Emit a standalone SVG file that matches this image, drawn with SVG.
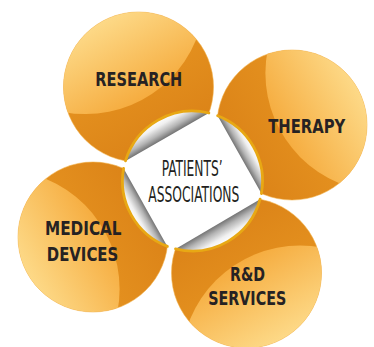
<svg xmlns="http://www.w3.org/2000/svg" width="374" height="347" viewBox="0 0 374 347">
<style>
.lbl{font-family:"Liberation Sans Narrow","DejaVu Sans Condensed","Liberation Sans",sans-serif;font-weight:700;font-size:20px;fill:#262223;text-anchor:middle}
.ctr{font-family:"Liberation Sans Narrow","DejaVu Sans Condensed","Liberation Sans",sans-serif;font-weight:400;font-size:22px;fill:#231F20;text-anchor:middle}
.gold{fill:none;stroke:#E8A814;stroke-width:2.8;stroke-linecap:round}
.rim{stroke:#F2B24A;stroke-width:0.8;stroke-opacity:0.7}
</style>
<defs>
<mask id="cut" maskUnits="userSpaceOnUse" x="0" y="0" width="374" height="347">
<rect width="374" height="347" fill="#fff"/>
<circle cx="192.5" cy="181" r="70" fill="#000"/>
</mask>
<clipPath id="c1"><circle cx="138.5" cy="87" r="75"/></clipPath>
<clipPath id="c2"><circle cx="292" cy="125" r="75"/></clipPath>
<clipPath id="c3"><circle cx="246.5" cy="273" r="75"/></clipPath>
<clipPath id="c4"><circle cx="93" cy="237" r="75"/></clipPath>
<linearGradient id="d1" gradientUnits="userSpaceOnUse" x1="167" y1="137" x2="101" y2="22"><stop offset="0" stop-color="#DC8418"/><stop offset="1" stop-color="#EA9A24"/></linearGradient>
<linearGradient id="d2" gradientUnits="userSpaceOnUse" x1="239" y1="155" x2="357" y2="88"><stop offset="0" stop-color="#DC8418"/><stop offset="1" stop-color="#EA9A24"/></linearGradient>
<linearGradient id="d3" gradientUnits="userSpaceOnUse" x1="218" y1="224" x2="284" y2="338"><stop offset="0" stop-color="#DC8418"/><stop offset="1" stop-color="#EA9A24"/></linearGradient>
<linearGradient id="d4" gradientUnits="userSpaceOnUse" x1="146" y1="207" x2="28" y2="274"><stop offset="0" stop-color="#DC8418"/><stop offset="1" stop-color="#EA9A24"/></linearGradient>
<linearGradient id="h1" gradientUnits="userSpaceOnUse" x1="148" y1="104" x2="101" y2="22"><stop offset="0" stop-color="#F5A93A"/><stop offset="1" stop-color="#FDD987"/></linearGradient>
<linearGradient id="h2" gradientUnits="userSpaceOnUse" x1="275" y1="135" x2="357" y2="88"><stop offset="0" stop-color="#F5A93A"/><stop offset="1" stop-color="#FDD987"/></linearGradient>
<linearGradient id="h3" gradientUnits="userSpaceOnUse" x1="237" y1="256" x2="284" y2="338"><stop offset="0" stop-color="#F5A93A"/><stop offset="1" stop-color="#FDD987"/></linearGradient>
<linearGradient id="h4" gradientUnits="userSpaceOnUse" x1="110" y1="227" x2="28" y2="274"><stop offset="0" stop-color="#F5A93A"/><stop offset="1" stop-color="#FDD987"/></linearGradient>
<linearGradient id="g1" gradientUnits="userSpaceOnUse" x1="167.2" y1="136.9" x2="157.6" y2="120.3"><stop offset="0" stop-color="#747474"/><stop offset="0.3" stop-color="#b4b4b4"/><stop offset="0.7" stop-color="#f0f0f0"/><stop offset="1" stop-color="#ffffff"/></linearGradient>
<linearGradient id="g2" gradientUnits="userSpaceOnUse" x1="239.5" y1="154.6" x2="253.5" y2="146.7"><stop offset="0" stop-color="#747474"/><stop offset="0.3" stop-color="#b4b4b4"/><stop offset="0.7" stop-color="#f0f0f0"/><stop offset="1" stop-color="#ffffff"/></linearGradient>
<linearGradient id="g3" gradientUnits="userSpaceOnUse" x1="217.8" y1="224.1" x2="227.9" y2="241.4"><stop offset="0" stop-color="#747474"/><stop offset="0.3" stop-color="#b4b4b4"/><stop offset="0.7" stop-color="#f0f0f0"/><stop offset="1" stop-color="#ffffff"/></linearGradient>
<linearGradient id="g4" gradientUnits="userSpaceOnUse" x1="145.5" y1="207.4" x2="131.5" y2="215.3"><stop offset="0" stop-color="#747474"/><stop offset="0.3" stop-color="#b4b4b4"/><stop offset="0.7" stop-color="#f0f0f0"/><stop offset="1" stop-color="#ffffff"/></linearGradient>
</defs>
<rect width="374" height="347" fill="#fff"/>

<g id="research">
<g mask="url(#cut)">
<circle cx="138.5" cy="87" r="75" fill="url(#d1)" class="rim"/>
<circle cx="85.7" cy="-4.9" r="119" fill="url(#h1)" clip-path="url(#c1)"/>
</g>
<path d="M125.5 160.9 L208.9 113 A70 70 0 0 0 125.5 160.9 Z" fill="url(#g1)"/>
<path d="M208.9 113 A70 70 0 0 0 125.5 160.9" class="gold"/>
<text class="lbl" x="138.8" y="86" textLength="87" lengthAdjust="spacingAndGlyphs">RESEARCH</text>
</g>

<g id="therapy">
<g mask="url(#cut)">
<circle cx="292" cy="125" r="75" fill="url(#d2)" class="rim"/>
<circle cx="384.4" cy="73" r="119" fill="url(#h2)" clip-path="url(#c2)"/>
</g>
<path d="M217.6 115.7 L261.4 193.5 A70 70 0 0 0 217.6 115.7 Z" fill="url(#g2)"/>
<path d="M261.4 193.5 A70 70 0 0 0 217.6 115.7" class="gold"/>
<text class="lbl" x="306.7" y="132.7" textLength="77" lengthAdjust="spacingAndGlyphs">THERAPY</text>
</g>

<g id="rd-services">
<g mask="url(#cut)">
<circle cx="246.5" cy="273" r="75" fill="url(#d3)" class="rim"/>
<circle cx="300.2" cy="364.4" r="119" fill="url(#h3)" clip-path="url(#c3)"/>
</g>
<path d="M260.1 199.2 L175.5 248.9 A70 70 0 0 0 260.1 199.2 Z" fill="url(#g3)"/>
<path d="M175.5 248.9 A70 70 0 0 0 260.1 199.2" class="gold"/>
<text class="lbl" x="247.5" y="280.7" textLength="35" lengthAdjust="spacingAndGlyphs">R&amp;D</text>
<text class="lbl" x="247.2" y="305" textLength="78" lengthAdjust="spacingAndGlyphs">SERVICES</text>
</g>

<g id="medical-devices">
<g mask="url(#cut)">
<circle cx="93" cy="237" r="75" fill="url(#d4)" class="rim"/>
<circle cx="0.6" cy="289" r="119" fill="url(#h4)" clip-path="url(#c4)"/>
</g>
<path d="M167.4 246.4 L123.6 168.5 A70 70 0 0 0 167.4 246.4 Z" fill="url(#g4)"/>
<path d="M123.6 168.5 A70 70 0 0 0 167.4 246.4" class="gold"/>
<text class="lbl" x="83.3" y="235" textLength="76.5" lengthAdjust="spacingAndGlyphs">MEDICAL</text>
<text class="lbl" x="82.5" y="261" textLength="71.5" lengthAdjust="spacingAndGlyphs">DEVICES</text>
</g>

<g id="patients-associations">
<text class="ctr" x="192.2" y="176" textLength="61" lengthAdjust="spacingAndGlyphs">PATIENTS’</text>
<text class="ctr" x="193.8" y="201.5" textLength="91" lengthAdjust="spacingAndGlyphs">ASSOCIATIONS</text>
</g>

<g id="connectors"/>
</svg>
